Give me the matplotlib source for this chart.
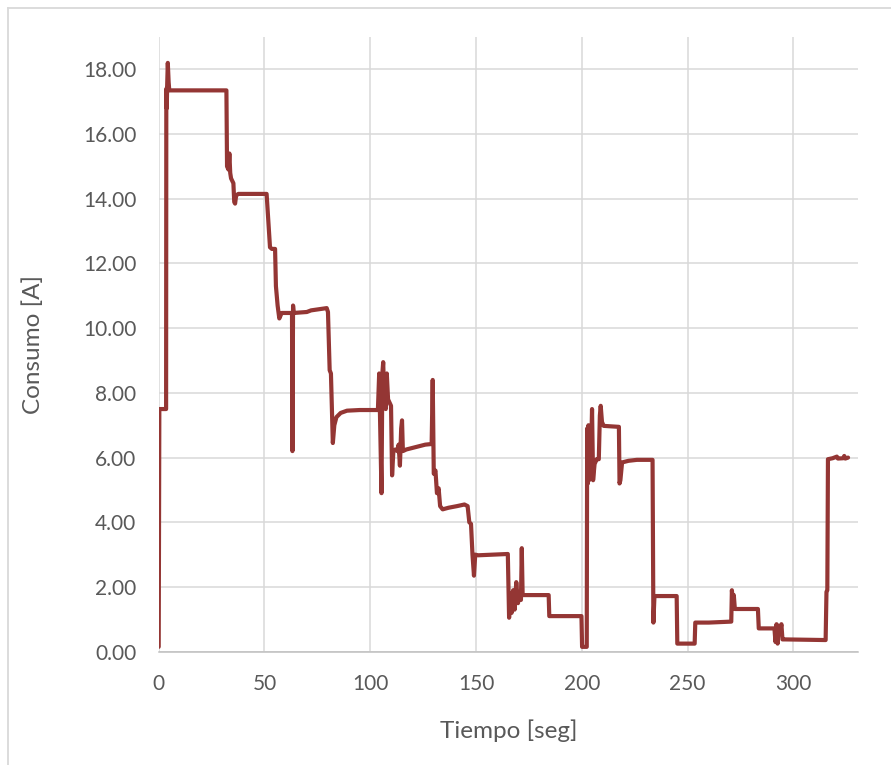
import matplotlib
matplotlib.use("Agg")
import matplotlib.pyplot as plt
from matplotlib.lines import Line2D
from matplotlib.ticker import FormatStrFormatter, MultipleLocator

# Current draw over the test run
tiempo = [
    0.0, 0.3, 3.5, 3.6, 3.8, 4.0, 4.3, 4.7, 5.0, 32.0,
    32.3, 33.0, 33.4, 33.8, 34.2, 35.3, 35.7, 36.1, 36.6, 37.6,
    51.0, 51.8, 52.6, 53.5, 55.0, 55.4, 56.2, 57.0, 58.1, 63.0,
    63.2, 63.5, 63.8, 70.0, 72.0, 79.4, 80.0, 80.8, 81.4, 82.3,
    83.0, 84.0, 86.0, 89.0, 95.0, 103.6, 104.2, 104.6, 105.3, 105.7,
    106.1, 106.6, 107.3, 107.8, 108.4, 109.8, 110.3, 110.9, 111.8, 112.8,
    113.4, 114.0, 114.6, 115.0, 115.4, 117.0, 120.0, 123.0, 126.0, 129.0,
    129.5, 130.0, 130.8, 131.5, 132.3, 133.0, 134.2, 137.0, 141.0, 144.5,
    146.0, 146.8, 147.6, 148.3, 149.0, 149.6, 151.0, 158.0, 165.0, 165.6,
    166.3, 166.8, 167.5, 168.2, 169.0, 169.8, 170.5, 171.2, 171.6, 172.0,
    184.3, 184.6, 199.8, 200.1, 202.3, 202.5, 202.8, 203.1, 203.4, 203.7,
    204.2, 204.8, 205.3, 206.0, 207.0, 208.0, 208.5, 208.9, 209.5, 210.3,
    217.5, 217.8, 218.2, 219.0, 222.0, 226.0, 233.4, 233.8, 234.3, 244.8,
    245.1, 253.3, 253.6, 260.0, 270.6, 270.9, 271.4, 271.8, 272.3, 283.2,
    283.6, 291.0, 291.5, 292.0, 292.5, 293.0, 293.5, 294.3, 294.8, 296.0,
    315.2, 315.6, 316.0, 316.3, 318.5, 320.5, 321.0, 323.5, 324.0, 324.5,
    325.8,
]
consumo = [
    0.15, 7.5, 7.5, 17.4, 16.8, 17.5, 18.2, 17.6, 17.35, 17.35,
    15.0, 14.9, 15.4, 14.8, 14.63, 14.48, 13.9, 13.85, 14.1, 14.15,
    14.15, 13.3, 12.5, 12.45, 12.45, 11.3, 10.7, 10.3, 10.47, 10.47,
    6.2, 10.7, 10.47, 10.5, 10.55, 10.62, 10.5, 8.7, 8.6, 6.45,
    7.0, 7.25, 7.38, 7.45, 7.47, 7.47, 8.6, 7.3, 4.9, 8.6,
    8.95, 7.8, 7.5, 8.6, 7.8, 7.6, 5.45, 6.2, 6.25, 6.2,
    6.4, 5.75, 6.9, 7.15, 6.2, 6.25, 6.3, 6.35, 6.4, 6.42,
    8.4, 5.5, 5.6, 4.9, 5.05, 4.5, 4.4, 4.45, 4.5, 4.55,
    4.5, 4.0, 3.95, 3.0, 2.35, 3.0, 2.98, 3.0, 3.02, 1.05,
    1.8, 1.2, 1.9, 1.3, 2.15, 1.5, 1.8, 1.6, 3.2, 1.75,
    1.75, 1.1, 1.1, 0.15, 0.15, 6.9, 5.2, 7.0, 5.3, 6.9,
    5.6, 7.5, 5.3, 5.8, 5.95, 5.95, 7.3, 7.6, 7.1, 6.98,
    6.95, 5.2, 5.3, 5.85, 5.9, 5.93, 5.93, 0.9, 1.72, 1.72,
    0.25, 0.25, 0.9, 0.9, 0.93, 1.9, 1.5, 1.75, 1.32, 1.32,
    0.72, 0.72, 0.3, 0.85, 0.25, 0.8, 0.55, 0.85, 0.38, 0.38,
    0.36, 1.85, 1.9, 5.95, 5.98, 6.03, 5.97, 5.98, 6.05, 5.97,
    6.0,
]

x_ticks = [0, 50, 100, 150, 200, 250, 300]
x_label = "Tiempo [seg]"
y_label = "Consumo [A]"

plt.rcParams["font.family"] = ["Lato", "DejaVu Sans"]
text_color = "#595959"
grid_color = "#d9d9d9"

W, H, DPI = 891, 765, 100
fig = plt.figure(figsize=(W / DPI, H / DPI), dpi=DPI)
fig.patch.set_facecolor("white")

# chart-area border (top and left edges)
fig.add_artist(Line2D([7.5 / W, 1.0], [1 - 7.5 / H, 1 - 7.5 / H],
                      transform=fig.transFigure, color=grid_color, lw=1.3))
fig.add_artist(Line2D([7.5 / W, 7.5 / W], [0.0, 1 - 7.5 / H],
                      transform=fig.transFigure, color=grid_color, lw=1.3))

left, right = 158.7 / W, 858.0 / W
bottom, top = 1 - 651.7 / H, 1 - 37.0 / H
ax = fig.add_axes([left, bottom, right - left, top - bottom])

ax.plot(tiempo, consumo, color="#943634", lw=3.0, solid_joinstyle="round",
        solid_capstyle="round", zorder=3)

ax.set_xlim(0, 330.5)
ax.set_ylim(0, 19)
ax.set_xticks(x_ticks)
ax.yaxis.set_major_locator(MultipleLocator(2))
ax.yaxis.set_major_formatter(FormatStrFormatter("%.2f"))

ax.grid(True, color=grid_color, lw=1.1)
ax.set_axisbelow(True)
for side in ("top", "right", "left"):
    ax.spines[side].set_visible(False)
ax.spines["bottom"].set_color("#bfbfbf")
ax.spines["bottom"].set_linewidth(1.1)

ax.tick_params(axis="both", length=0, labelsize=15, labelcolor=text_color)
ax.tick_params(axis="y", pad=16)
ax.tick_params(axis="x", pad=16)

ax.set_xlabel(x_label, fontsize=17.5, color=text_color, labelpad=18)
ax.set_ylabel(y_label, fontsize=17.5, color=text_color, labelpad=28)

fig.savefig("out.png", dpi=DPI)
